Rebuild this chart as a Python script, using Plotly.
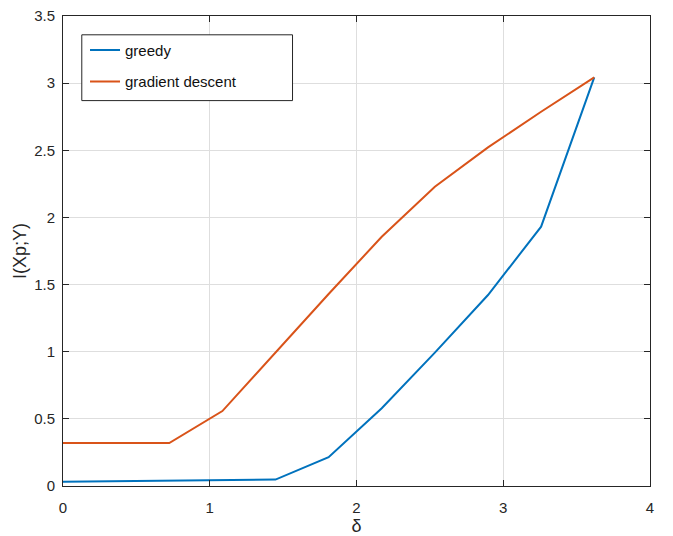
import plotly.graph_objects as go

# delta values (step ~0.362)
delta = [0.0, 0.362, 0.724, 1.086, 1.448, 1.81, 2.172, 2.534, 2.896, 3.258, 3.62]

greedy = [0.032, 0.037, 0.042, 0.045, 0.048, 0.214, 0.579, 0.993, 1.422, 1.931, 3.043]
gradient_descent = [0.32, 0.32, 0.32, 0.558, 0.995, 1.43, 1.856, 2.229, 2.522, 2.787, 3.043]

x_ticks = [0, 1, 2, 3, 4]
y_ticks = [0, 0.5, 1, 1.5, 2, 2.5, 3, 3.5]

fig = go.Figure()

fig.add_trace(go.Scatter(
    x=delta, y=greedy, mode='lines', name='greedy',
    line=dict(color='#0072BD', width=2), legendgroup='a',
))
fig.add_trace(go.Scatter(
    x=delta, y=gradient_descent, mode='lines', name='gradient descent',
    line=dict(color='#D95319', width=2), legendgroup='b',
))

axis_common = dict(
    showline=True, linecolor='#262626', linewidth=1, mirror='ticks',
    ticks='inside', ticklen=6, tickcolor='#262626',
    showgrid=True, gridcolor='#dedede', gridwidth=1,
    zeroline=False, automargin=False, ticklabeloverflow='allow',
    tickfont=dict(family='Liberation Sans, Arial', size=15, color='#262626'),
)

# legend frame drawn as a shape so it can be wider than the entries
fig.add_shape(type='rect', xref='paper', yref='paper',
              x0=0.032, x1=0.391, y0=0.82, y1=0.96,
              line=dict(color='#262626', width=1), fillcolor='white', layer='above')

# page body has an 8px margin, so the figure is 8px smaller and shifted
fig.update_layout(
    width=665, height=528,
    margin=dict(l=55, r=23, t=8, b=50),
    plot_bgcolor='white', paper_bgcolor='white',
    font=dict(family='Liberation Sans, Arial', size=15, color='#262626'),
    xaxis=dict(range=[0, 4], tickvals=x_ticks, ticktext=[str(v) for v in x_ticks],
               ticklabelstandoff=8,
               title=dict(text='δ', standoff=4), **axis_common),
    yaxis=dict(range=[0, 3.5], tickvals=y_ticks, ticktext=[f"{v:g}" for v in y_ticks],
               ticklabelstandoff=4,
               title=dict(text='I(Xp;Y)', standoff=2), **axis_common),
    showlegend=True,
    legend=dict(x=0.0375, y=0.962, xanchor='left', yanchor='top',
                bgcolor='rgba(0,0,0,0)', borderwidth=0,
                tracegroupgap=9,
                font=dict(family='Liberation Sans, Arial', size=15, color='#111111')),
)

fig.write_html("out.html")
